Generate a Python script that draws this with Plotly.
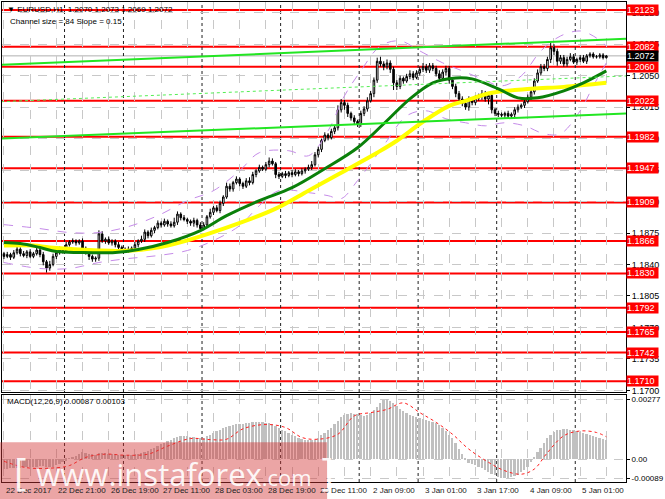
import plotly.graph_objects as go

# EURUSD H1, 22 Dec 2017 - 5 Jan 2018, one value per bar
closes = [
    1.1849, 1.1851, 1.1848, 1.1853, 1.1857, 1.1852, 1.1850, 1.1854, 1.1849, 1.1852, 1.1856, 1.1851,
    1.1843, 1.1836, 1.1840,
    1.1849, 1.1853, 1.1857, 1.1855,
    1.1862, 1.1865, 1.1866, 1.1864, 1.1866,
    1.1858, 1.1854,
    1.1849, 1.1846, 1.1847,
    1.1874,
    1.1866, 1.1868, 1.1864, 1.1866, 1.1862,
    1.1859, 1.1857, 1.1855, 1.1857,
    1.1858, 1.1862, 1.1866, 1.1868,
    1.1876, 1.1872, 1.1878, 1.1881,
    1.1886, 1.1884, 1.1888, 1.1885, 1.1883, 1.1887,
    1.1896, 1.1892, 1.1890,
    1.1888, 1.1886, 1.1889, 1.1884,
    1.1880, 1.1884,
    1.1893, 1.1898, 1.1903, 1.1900, 1.1908, 1.1915,
    1.1927, 1.1924, 1.1931, 1.1935,
    1.1930, 1.1927, 1.1933, 1.1931,
    1.1940, 1.1944, 1.1948, 1.1946, 1.1951, 1.1955, 1.1952,
    1.1940,
    1.1938, 1.1941, 1.1939, 1.1942, 1.1940, 1.1943, 1.1941, 1.1944,
    1.1946, 1.1948, 1.1951,
    1.1962, 1.1968,
    1.1978, 1.1984, 1.1981, 1.1988, 1.1992,
    1.2012, 1.2020, 1.2017,
    1.2008, 1.2003, 1.1999, 1.1996,
    1.2008, 1.2013, 1.2022, 1.2030,
    1.2045, 1.2066, 1.2063,
    1.2060, 1.2064, 1.2057,
    1.2042, 1.2038,
    1.2047, 1.2044, 1.2049, 1.2052, 1.2048, 1.2053,
    1.2057, 1.2060, 1.2056, 1.2061, 1.2058,
    1.2052, 1.2047, 1.2054, 1.2058,
    1.2045, 1.2038, 1.2030, 1.2024, 1.2019,
    1.2015, 1.2023, 1.2020, 1.2025,
    1.2027, 1.2030, 1.2024, 1.2028,
    1.2012, 1.2008, 1.2007, 1.2006, 1.2008, 1.2005, 1.2007,
    1.2012, 1.2015, 1.2017, 1.2021,
    1.2026, 1.2032, 1.2044,
    1.2053, 1.2060, 1.2058, 1.2068,
    1.2081, 1.2077,
    1.2066, 1.2070, 1.2063, 1.2068,
    1.2071, 1.2065, 1.2068, 1.2070, 1.2066, 1.2072, 1.2074, 1.2071, 1.2071, 1.2073, 1.2070, 1.2072,
]
# wick lengths in pips above / below the body
up_wick = [
    2, 3, 2, 3, 4, 2, 3, 2, 3, 2,  3, 2, 3, 2, 4, 3, 2, 3, 2, 3,
    2, 3, 2, 2, 3, 2, 3, 2, 2, 4,  3, 2, 3, 2, 2, 3, 2, 2, 3, 2,
    3, 2, 4, 3, 2, 3, 2, 3, 2, 3,  2, 3, 5, 3, 2, 3, 2, 2, 3, 2,
    3, 3, 2, 4, 2, 3, 3, 2, 4, 3,  2, 3, 2, 2, 3, 4, 3, 2, 3, 2,
    3, 4, 3, 2, 3, 2, 3, 2, 3, 3,  2, 3, 2, 3, 4, 3, 3, 2, 3, 2,
    3, 3, 5, 4, 3, 3, 2, 3, 2, 3,  3, 4, 3, 3, 4, 5, 3, 4, 3, 3,
    3, 3, 2, 3, 4, 3, 3, 3, 4, 3,  3, 3, 3, 4, 3, 3, 3, 2, 3, 3,
    3, 3, 4, 3, 3, 3, 4, 3, 3, 2,  2, 3, 2, 2, 3, 2, 3, 3, 2, 3,
    3, 4, 3, 4, 3, 3, 3, 6, 4, 3,  3, 3, 3, 4, 3, 2, 3, 3, 2, 2,
    2, 2, 2, 2, 1,
]
low_wick = [
    3, 2, 3, 2, 2, 3, 2, 3, 2, 2,  2, 3, 4, 5, 3, 2, 3, 2, 3, 2,
    2, 2, 3, 2, 3, 3, 4, 3, 3, 3,  2, 3, 2, 3, 3, 2, 3, 2, 2, 3,
    2, 3, 2, 3, 3, 2, 3, 2, 3, 2,  3, 2, 2, 3, 3, 2, 3, 3, 4, 3,
    3, 2, 3, 2, 3, 2, 3, 3, 2, 3,  3, 2, 3, 3, 2, 3, 2, 3, 2, 2,
    2, 3, 2, 4, 3, 2, 3, 2, 3, 2,  3, 2, 3, 2, 3, 2, 3, 3, 2, 3,
    2, 3, 3, 3, 5, 4, 3, 4, 3, 3,  3, 3, 2, 4, 3, 3, 4, 3, 4, 8,
    4, 3, 3, 2, 3, 3, 2, 3, 3, 3,  3, 3, 3, 3, 2, 4, 4, 3, 4, 5,
    3, 3, 4, 3, 3, 3, 4, 3, 6, 4,  3, 3, 2, 3, 3, 2, 3, 3, 2, 3,
    2, 3, 3, 2, 3, 3, 3, 4, 4, 5,  3, 3, 3, 2, 2, 3, 3, 2, 3, 2,
    2, 2, 2, 2, 1,
]

# moving averages, sampled as (bar, price)
ma_green_bar = [0, 5, 11, 16, 23, 34, 41, 50, 60, 68, 78, 88, 98, 108, 116, 124, 131, 138, 143, 151, 157, 163, 171, 177, 184]
ma_green = [1.18644, 1.18633, 1.18588, 1.18544, 1.18533, 1.18533, 1.18566, 1.18644, 1.18777, 1.18943, 1.19110, 1.19254,
            1.19465, 1.19698, 1.19965, 1.20242, 1.20420, 1.20475, 1.20464, 1.20353, 1.20253, 1.20253, 1.20331, 1.20420, 1.20553]
ma_yellow_bar = [0, 9, 14, 29, 39, 50, 68, 83, 93, 103, 114, 120, 128, 136, 141, 149, 161, 171, 184]
ma_yellow = [1.18610, 1.18610, 1.18588, 1.18555, 1.18555, 1.18610, 1.18810, 1.19021, 1.19221, 1.19421, 1.19643, 1.19776,
             1.19987, 1.20164, 1.20220, 1.20309, 1.20353, 1.20375, 1.20420]

# envelope bands
band_up_bar = [0, 11, 20, 29, 38, 47, 56, 64, 72, 78, 87, 93, 99, 104, 109, 115, 121, 127, 134, 140, 146, 152, 158, 164, 170, 176, 180, 184]
band_up = [1.18843, 1.18799, 1.18755, 1.18755, 1.18821, 1.18943, 1.19110, 1.19221, 1.19443, 1.19643, 1.19665, 1.19609,
           1.19887, 1.20275, 1.20553, 1.20830, 1.20886, 1.20775, 1.20642, 1.20553, 1.20464, 1.20386, 1.20497, 1.20775,
           1.20941, 1.20997, 1.20941, 1.20830]
band_lo_bar = [0, 11, 20, 29, 38, 47, 56, 64, 72, 78, 84, 93, 99, 103, 108, 112, 117, 123, 129, 135, 141, 147, 153, 159, 165, 170, 176, 180, 184]
band_lo = [1.18422, 1.18355, 1.18355, 1.18422, 1.18466, 1.18499, 1.18555, 1.18666, 1.18832, 1.19054, 1.19221, 1.19199,
           1.19165, 1.19132, 1.19332, 1.19521, 1.19776, 1.20053, 1.20109, 1.20020, 1.19976, 1.19942, 1.19976, 1.19942,
           1.19854, 1.19854, 1.20109, 1.20386, 1.20642]

# regression channel end points
channel_bar = [-0.9, 190]
channel_up = [1.2062, 1.2091]
channel_mid = [1.2021, 1.20497]
channel_lo = [1.1980, 1.2008]

# support / resistance levels
levels = [1.2123, 1.2082, 1.2060, 1.2022, 1.1982, 1.1947, 1.1909, 1.1866, 1.1830, 1.1792, 1.1765, 1.1742, 1.1710]
last_price = 1.2072

# MACD(12,26,9)
macd_hist = [
    -0.00045, -0.00046, -0.00044, -0.00042,
    -0.00040, -0.00041, -0.00039, -0.00038, -0.00036, -0.00037, -0.00035, -0.00033, -0.00034, -0.00036, -0.00038, -0.00035, -0.00030,
    -0.00022, -0.00015, -0.00008,
    0.00002, 0.00010, 0.00016,
    0.00024, 0.00030, 0.00028,
    0.00025, 0.00022, 0.00020, 0.00026, 0.00028, 0.00027, 0.00025, 0.00024,
    0.00022, 0.00020, 0.00018, 0.00017, 0.00018,
    0.00019, 0.00021, 0.00024, 0.00028, 0.00033, 0.00038,
    0.00045, 0.00052, 0.00060, 0.00068,
    0.00076, 0.00082, 0.00088, 0.00095, 0.00100,
    0.00104, 0.00106, 0.00104, 0.00103, 0.00101, 0.00098,
    0.00095, 0.00099, 0.00105, 0.00112, 0.00120, 0.00128, 0.00135, 0.00142, 0.00148,
    0.00152, 0.00156, 0.00160, 0.00162, 0.00164,
    0.00166, 0.00168, 0.00170, 0.00171, 0.00172, 0.00170, 0.00168, 0.00165, 0.00160, 0.00152, 0.00144,
    0.00136, 0.00128, 0.00120, 0.00112, 0.00105,
    0.00098, 0.00094, 0.00090, 0.00088, 0.00087, 0.00090, 0.00098,
    0.00110, 0.00122, 0.00134, 0.00145,
    0.00160, 0.00178, 0.00192, 0.00202, 0.00208,
    0.00212, 0.00210, 0.00206,
    0.00202, 0.00200, 0.00204, 0.00212, 0.00225, 0.00240,
    0.00258, 0.00272, 0.00277, 0.00270, 0.00258,
    0.00245, 0.00232, 0.00220, 0.00212, 0.00205,
    0.00198, 0.00192, 0.00188, 0.00184, 0.00180, 0.00176, 0.00172,
    0.00165, 0.00155, 0.00142, 0.00128, 0.00112, 0.00095,
    0.00072, 0.00048, 0.00022,
    -0.00005, -0.00018, -0.00025, -0.00030, -0.00036,
    -0.00044, -0.00052, -0.00060, -0.00068, -0.00076, -0.00083, -0.00087, -0.00089,
    -0.00086, -0.00082, -0.00078, -0.00072, -0.00062, -0.00050, -0.00036,
    -0.00015, 0.00008, 0.00030, 0.00052,
    0.00075, 0.00095, 0.00112, 0.00125,
    0.00132, 0.00136, 0.00138, 0.00137, 0.00134, 0.00132, 0.00128, 0.00125,
    0.00120, 0.00116, 0.00112, 0.00106, 0.00100, 0.00095, 0.00091, 0.00087,
]
signal_bar = [0, 7, 16, 20, 25, 31, 37, 44, 50, 57, 63, 68, 73, 80, 86, 91, 96, 102, 107, 112, 117, 122, 127, 132, 137,
              142, 148, 153, 158, 162, 166, 171, 176, 181, 184]
signal = [-0.00010, -0.00040, -0.00040, -0.00030, 0.00008, 0.00023, 0.00018, 0.00023, 0.00060, 0.00095, 0.00090, 0.00092,
          0.00140, 0.00160, 0.00146, 0.00100, 0.00092, 0.00115, 0.00200, 0.00215, 0.00230, 0.00260, 0.00215, 0.00170,
          0.00115, 0.00046, -0.00015, -0.00054, -0.00070, -0.00046, 0.00030, 0.00108, 0.00130, 0.00123, 0.00103]

time_labels = ["22 Dec 2017", "22 Dec 21:00", "26 Dec 19:00", "27 Dec 11:00", "28 Dec 03:00", "28 Dec 19:00",
               "29 Dec 11:00", "2 Jan 09:00", "3 Jan 01:00", "3 Jan 17:00", "4 Jan 09:00", "5 Jan 01:00"]
time_label_bar = [0, 16, 32, 48, 64, 80, 96, 112, 128, 144, 160, 176]
day_breaks = [18.5, 36.5, 60.5, 84.5, 108.5, 126.5, 150.5, 174.5]
price_ticks = [1.1700, 1.1735, 1.1770, 1.1805, 1.1840, 1.1875, 1.1910, 1.1945, 1.1980, 1.2015, 1.2050, 1.2085, 1.2120]

# H1 forex bars open where the previous one closed
opens = [1.1852] + closes[:-1]
highs = [max(o, c) + w / 10000 for o, c, w in zip(opens, closes, up_wick)]
lows = [min(o, c) - w / 10000 for o, c, w in zip(opens, closes, low_wick)]
bars = list(range(len(closes)))

FONT = "Liberation Sans"
fig = go.Figure()

fig.add_trace(go.Candlestick(
    x=bars, open=opens, high=highs, low=lows, close=closes,
    increasing=dict(line=dict(color="black", width=1), fillcolor="white"),
    decreasing=dict(line=dict(color="black", width=1), fillcolor="black"),
    whiskerwidth=0, xaxis="x", yaxis="y", hoverinfo="skip"))

for bx, by in [(band_up_bar, band_up), (band_lo_bar, band_lo)]:
    fig.add_trace(go.Scatter(x=bx, y=by, mode="lines", line=dict(color="#C58BE8", width=1, dash="dash", shape="spline"),
                             xaxis="x", yaxis="y"))

fig.add_trace(go.Scatter(x=ma_yellow_bar, y=ma_yellow, mode="lines",
                         line=dict(color="#FFFF00", width=4, shape="spline"), xaxis="x", yaxis="y"))
fig.add_trace(go.Scatter(x=ma_green_bar, y=ma_green, mode="lines",
                         line=dict(color="#0A800A", width=3, shape="spline"), xaxis="x", yaxis="y"))

fig.add_trace(go.Scatter(x=channel_bar, y=channel_up, mode="lines", line=dict(color="#22E622", width=2), xaxis="x", yaxis="y"))
fig.add_trace(go.Scatter(x=channel_bar, y=channel_lo, mode="lines", line=dict(color="#22E622", width=2), xaxis="x", yaxis="y"))
fig.add_trace(go.Scatter(x=channel_bar, y=channel_mid, mode="lines", line=dict(color="#55EE55", width=1, dash="dot"),
                         xaxis="x", yaxis="y"))

fig.add_trace(go.Bar(x=bars, y=macd_hist, marker=dict(color="#C0C0C0", line=dict(width=0)), width=0.55,
                     xaxis="x2", yaxis="y2"))
fig.add_trace(go.Scatter(x=signal_bar, y=signal, mode="lines", line=dict(color="#FF2020", width=1, dash="dot", shape="spline"),
                         xaxis="x2", yaxis="y2"))

shapes = []
for lv in levels:
    shapes.append(dict(type="line", xref="paper", x0=0, x1=1, yref="y", y0=lv, y1=lv,
                       line=dict(color="#FF0000", width=2), layer="below"))
shapes.append(dict(type="line", xref="paper", x0=0, x1=1, yref="y", y0=last_price, y1=last_price,
                   line=dict(color="#B0B0B0", width=1), layer="below"))
for d in day_breaks:
    shapes.append(dict(type="line", xref="x", x0=d, x1=d, yref="paper", y0=0, y1=1,
                       line=dict(color="#202020", width=1, dash="dot"), layer="below"))
# watermark panel
shapes.append(dict(type="rect", xref="paper", yref="paper", x0=-0.01, x1=0.521, y0=-0.04, y1=0.083,
                   fillcolor="rgba(210,55,55,0.45)", line=dict(width=0), layer="above"))

annotations = []
for lv in levels:
    annotations.append(dict(x=1, xref="paper", xanchor="left", y=lv, yref="y", text=f"{lv:.4f}", showarrow=False,
                            bgcolor="#FF0000", font=dict(color="white", size=9, family=FONT), width=31, align="left",
                            borderpad=0))
annotations.append(dict(x=1, xref="paper", xanchor="left", y=last_price, yref="y", text=f"{last_price:.4f}",
                        showarrow=False, bgcolor="black", font=dict(color="white", size=9, family=FONT), width=31,
                        align="left", borderpad=0))
for lb, tx in zip(time_label_bar, time_labels):
    annotations.append(dict(x=lb, xref="x", xanchor="left", y=-0.017, yref="paper", yanchor="middle", text=tx,
                            showarrow=False, font=dict(color="#202020", size=8, family=FONT)))
annotations += [
    dict(x=0, xref="paper", xanchor="left", xshift=3, y=0.985, yref="paper", yanchor="middle", showarrow=False,
         text="▼ EURUSD,H1  1.2070 1.2073 1.2069 1.2072", font=dict(size=8, color="black", family=FONT)),
    dict(x=0, xref="paper", xanchor="left", xshift=6, y=0.96, yref="paper", yanchor="middle", showarrow=False,
         text="Channel size = 84 Slope = 0.15", font=dict(size=8, color="black", family=FONT)),
    dict(x=0, xref="paper", xanchor="left", xshift=3, y=0.168, yref="paper", yanchor="middle", showarrow=False,
         text="MACD(12,26,9) 0.00087 0.00103", font=dict(size=8, color="black", family=FONT)),
    dict(x=0.276, xref="paper", y=0.022, yref="paper", xanchor="center", yanchor="middle", showarrow=False,
         text="[ <span style='font-size:31px'>www.instaforex</span><span style='font-size:22px'>.com</span> ]",
         font=dict(size=38, color="rgba(255,255,255,0.92)", family="Open Sans")),
]

axis_common = dict(showline=True, mirror=True, linecolor="black", linewidth=1, zeroline=False)
fig.update_layout(
    width=665, height=499, margin=dict(l=1, r=33, t=1, b=17),
    paper_bgcolor="white", plot_bgcolor="white", showlegend=False,
    xaxis=dict(domain=[0, 1], range=[-0.6, 190], anchor="y", tickvals=list(range(0, 191, 8)), showticklabels=False,
               ticks="", showgrid=True, gridcolor="#C8C8C8", griddash="dash", gridwidth=1,
               rangeslider=dict(visible=False), **axis_common),
    yaxis=dict(domain=[0.187, 1], range=[1.16979, 1.21319], side="right", anchor="x", tickvals=price_ticks,
               ticktext=[f"{t:.4f}" for t in price_ticks], ticks="outside", ticklen=3, tickcolor="black",
               tickfont=dict(size=9, color="black", family=FONT), showgrid=True, gridcolor="#C8C8C8",
               griddash="dash", **axis_common),
    xaxis2=dict(domain=[0, 1], range=[-0.6, 190], anchor="y2", matches="x", tickvals=list(range(0, 191, 8)),
                showticklabels=False, ticks="", showgrid=True, gridcolor="#C8C8C8", griddash="dash", **axis_common),
    yaxis2=dict(domain=[0, 0.181], range=[-0.00106, 0.00296], side="right", anchor="x2",
                tickvals=[0.00277, 0.0, -0.00089], ticktext=["0.00277", "0.00", "-0.00089"], ticks="outside",
                ticklen=3, tickcolor="black", tickfont=dict(size=8, color="black", family=FONT),
                showgrid=True, gridcolor="#C8C8C8", griddash="dash", **axis_common),
    shapes=shapes, annotations=annotations, bargap=0,
)

# the page's default 8px body margin would push the fixed-size chart off the window
fig.write_html("out.html", config={"displayModeBar": False},
               post_script="document.body.style.margin='0';")
